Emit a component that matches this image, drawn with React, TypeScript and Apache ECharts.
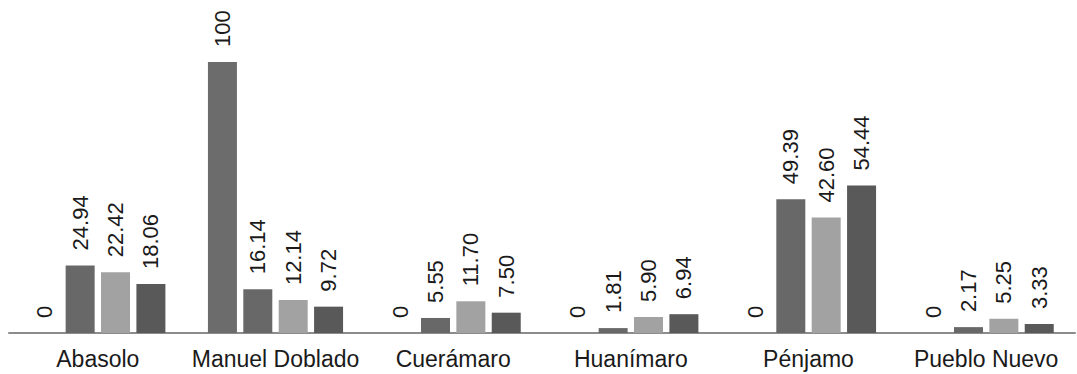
import React, { useEffect, useRef } from "react";
import * as echarts from "echarts";

const categories = ["Abasolo", "Manuel Doblado", "Cuerámaro", "Huanímaro", "Pénjamo", "Pueblo Nuevo"];
const series1 = [0, 100, 0, 0, 0, 0];
const series2 = [24.94, 16.14, 5.55, 1.81, 49.39, 2.17];
const series3 = [22.42, 12.14, 11.7, 5.9, 42.6, 5.25];
const series4 = [18.06, 9.72, 7.5, 6.94, 54.44, 3.33];
const seriesColors = ["#6c6c6c", "#686868", "#a2a2a2", "#595959"];

const FONT = "'Liberation Sans', Arial, Helvetica, sans-serif";

export default function App() {
  const ref = useRef<HTMLDivElement>(null);
  useEffect(() => {
    if (!ref.current) return;
    const chart = echarts.init(ref.current, undefined, { renderer: "svg" });
    const fmt = (p: any) => {
      const v = p.value as number;
      return Number.isInteger(v) ? String(v) : v.toFixed(2);
    };
    const mk = (data: number[], i: number) => ({
      type: "bar",
      data,
      barWidth: 29,
      barGap: "22%",
      itemStyle: { color: seriesColors[i] },
      label: {
        show: true,
        position: "top",
        rotate: 90,
        align: "left",
        verticalAlign: "middle",
        distance: 15,
        fontSize: 22,
        fontFamily: FONT,
        color: "#1a1a1a",
        formatter: fmt,
      },
    });
    chart.setOption({
      animation: false,
      grid: { left: 9, right: 2, top: 62, bottom: 41 },
      xAxis: {
        type: "category",
        data: categories,
        axisLine: { show: true, lineStyle: { color: "#8c8c8c", width: 2 } },
        axisTick: { show: false },
        axisLabel: {
          fontSize: 23,
          fontFamily: FONT,
          color: "#1a1a1a",
          margin: 14,
          interval: 0,
        },
      },
      yAxis: {
        type: "value",
        min: 0,
        max: 100,
        show: false,
        splitLine: { show: false },
      },
      series: [mk(series1, 0), mk(series2, 1), mk(series3, 2), mk(series4, 3)],
    });
    return () => chart.dispose();
  }, []);
  return (
    <div
      ref={ref}
      style={{ position: "fixed", left: 0, top: 0, width: 1077, height: 374, background: "#fff" }}
    />
  );
}
